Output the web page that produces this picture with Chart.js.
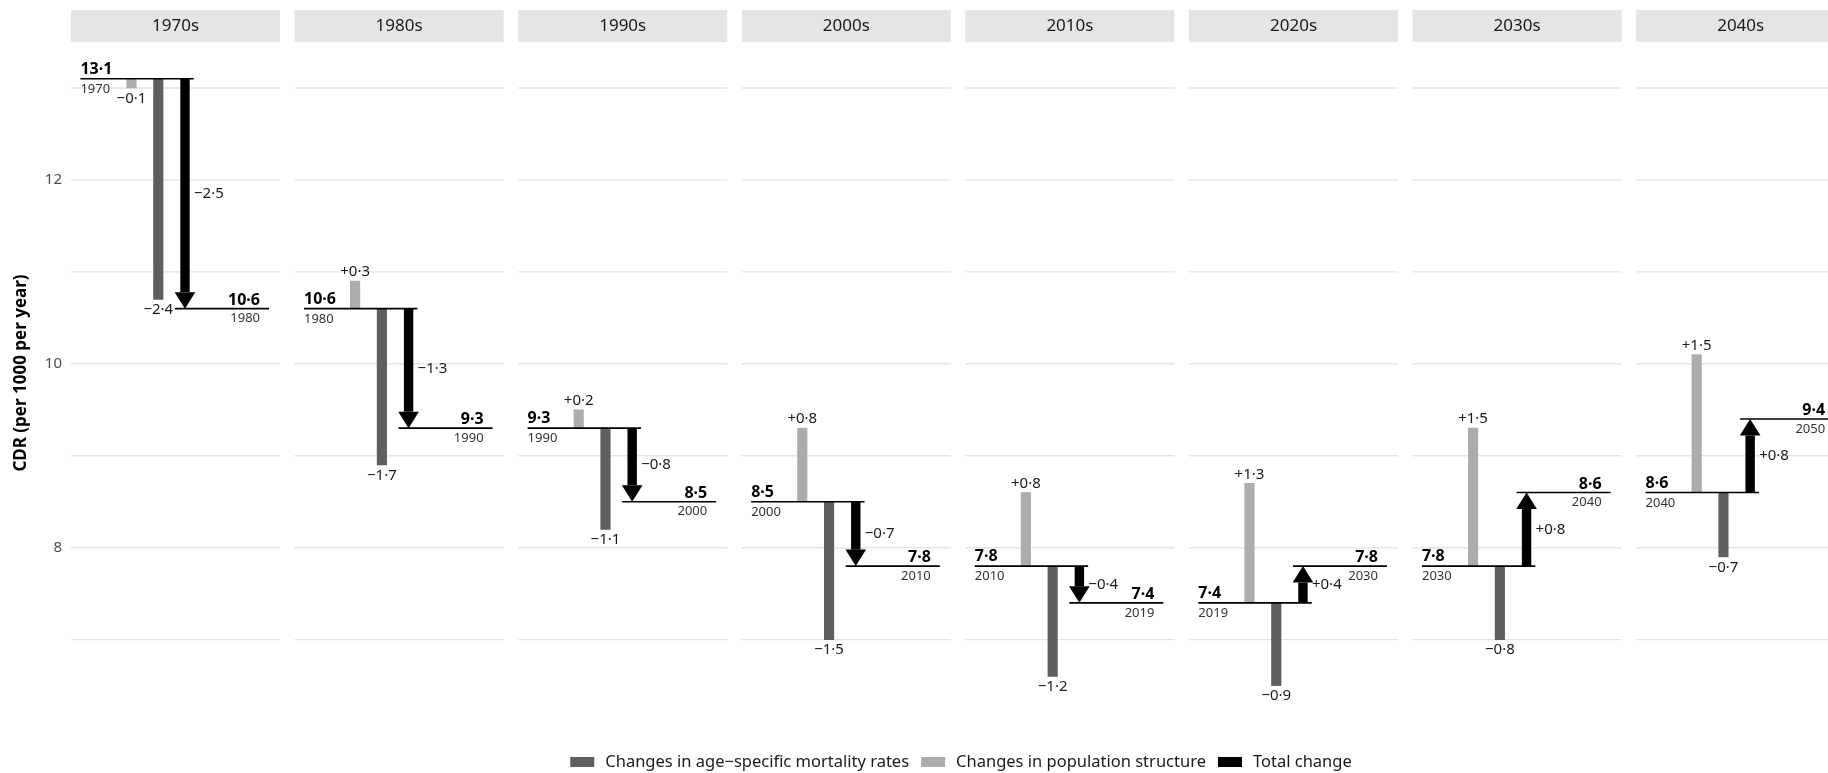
<!DOCTYPE html>
<html>
<head>
<meta charset="utf-8">
<script src="https://cdn.jsdelivr.net/npm/chart.js@4.4.0/dist/chart.umd.min.js"></script>
<style>
  html, body { margin: 0; padding: 0; background: #fff; }
  #wrap { position: relative; width: 1828px; height: 773px; }
</style>
</head>
<body>
<div id="wrap"><canvas id="cdrChart" width="1828" height="773"></canvas></div>
<script>
// Crude death rate decomposition by decade
const decades = ['1970s', '1980s', '1990s', '2000s', '2010s', '2020s', '2030s', '2040s'];
const startYears = ['1970', '1980', '1990', '2000', '2010', '2019', '2030', '2040'];
const endYears = ['1980', '1990', '2000', '2010', '2019', '2030', '2040', '2050'];
const startCdr = [13.1, 10.6, 9.3, 8.5, 7.8, 7.4, 7.8, 8.6];
const endCdr = [10.6, 9.3, 8.5, 7.8, 7.4, 7.8, 8.6, 9.4];
const mortalityChange = [-2.4, -1.7, -1.1, -1.5, -1.2, -0.9, -0.8, -0.7];
const structureChange = [-0.1, 0.3, 0.2, 0.8, 0.8, 1.3, 1.5, 1.5];
const totalChange = [-2.5, -1.3, -0.8, -0.7, -0.4, 0.4, 0.8, 0.8];
const yTickLabels = [8, 10, 12];
const yGridValues = [7, 8, 9, 10, 11, 12, 13];
const legendLabels = ['Changes in age\u2212specific mortality rates', 'Changes in population structure', 'Total change'];

const FONT = '"Noto Sans"';
const MORT_COLOR = '#5f5f5f';
const POP_COLOR = '#acacac';
const TOTAL_COLOR = '#000000';

// positions inside a facet, in units of one facet step
const PANEL_W = 0.935;
const POS = { startL: 0.042, startR: 0.549, pop: 0.2706, mort: 0.3904, total: 0.5098, endL: 0.465, endR: 0.8855, endLabel: 0.8453 };

const fmt = v => v.toFixed(1).replace('.', '\u00b7');
const fmtSigned = v => (v > 0 ? '+' : '\u2212') + fmt(Math.abs(v));

const levelPoints = [];
decades.forEach((d, i) => {
    levelPoints.push({ x: i + POS.startL, y: startCdr[i] }, { x: i + POS.startR, y: startCdr[i] }, { x: i + POS.startR, y: null });
    levelPoints.push({ x: i + POS.endL, y: endCdr[i] }, { x: i + POS.endR, y: endCdr[i] }, { x: i + POS.endR, y: null });
});

const facetPlugin = {
    id: 'facets',
    beforeDatasetsDraw(chart) {
        const { ctx, scales: { x, y } } = chart;
        ctx.save();
        ctx.strokeStyle = '#e5e5e5';
        ctx.lineWidth = 1.4;
        decades.forEach((d, i) => {
            const x0 = x.getPixelForValue(i), x1 = x.getPixelForValue(i + PANEL_W);
            yGridValues.forEach(v => {
                const py = y.getPixelForValue(v);
                ctx.beginPath();
                ctx.moveTo(x0, py);
                ctx.lineTo(x1, py);
                ctx.stroke();
            });
        });
        ctx.restore();
    },
    afterDatasetsDraw(chart) {
        const { ctx, scales: { x, y } } = chart;
        ctx.save();
        decades.forEach((d, i) => {
            // total change arrow
            const cx = x.getPixelForValue(i + POS.total);
            const y0 = y.getPixelForValue(startCdr[i]);
            const y1 = y.getPixelForValue(startCdr[i] + totalChange[i]);
            const dir = y1 > y0 ? 1 : -1;
            const headLen = 16.5, headHalf = 10.3, shaftHalf = 4.7;
            const yb = y1 - dir * headLen;
            ctx.fillStyle = TOTAL_COLOR;
            ctx.fillRect(cx - shaftHalf, Math.min(y0, yb), shaftHalf * 2, Math.abs(yb - y0));
            ctx.beginPath();
            ctx.moveTo(cx - headHalf, yb);
            ctx.lineTo(cx + headHalf, yb);
            ctx.lineTo(cx, y1);
            ctx.closePath();
            ctx.fill();

            ctx.textBaseline = 'middle';
            ctx.fillStyle = '#1a1a1a';
            ctx.font = `15px ${FONT}`;
            ctx.textAlign = 'left';
            ctx.fillText(fmtSigned(totalChange[i]), cx + 9, (y0 + y1) / 2);

            // component labels at bar ends
            ctx.textAlign = 'center';
            const popEnd = y.getPixelForValue(startCdr[i] + structureChange[i]);
            ctx.fillText(fmtSigned(structureChange[i]), x.getPixelForValue(i + POS.pop), popEnd + (structureChange[i] < 0 ? 11 : -9));
            const mortEnd = y.getPixelForValue(startCdr[i] + mortalityChange[i]);
            ctx.fillText(fmtSigned(mortalityChange[i]), x.getPixelForValue(i + POS.mort), mortEnd + (mortalityChange[i] < 0 ? 10.5 : -9));

            // start and end levels
            const yEnd = y.getPixelForValue(endCdr[i]);
            ctx.fillStyle = '#000';
            ctx.font = `bold 16px ${FONT}`;
            ctx.textAlign = 'left';
            ctx.fillText(fmt(startCdr[i]), x.getPixelForValue(i + POS.startL), y0 - 9.5);
            ctx.textAlign = 'right';
            ctx.fillText(fmt(endCdr[i]), x.getPixelForValue(i + POS.endLabel), yEnd - 8.5);
            ctx.fillStyle = '#333';
            ctx.font = `13px ${FONT}`;
            ctx.textAlign = 'left';
            ctx.fillText(startYears[i], x.getPixelForValue(i + POS.startL), y0 + 10.5);
            ctx.textAlign = 'right';
            ctx.fillText(endYears[i], x.getPixelForValue(i + POS.endLabel), yEnd + 10);
        });
        ctx.restore();
    },
    afterDraw(chart) {
        const { ctx, scales: { x } } = chart;
        ctx.save();
        // facet strips
        decades.forEach((d, i) => {
            const x0 = x.getPixelForValue(i), x1 = x.getPixelForValue(i + PANEL_W);
            ctx.fillStyle = '#e5e5e5';
            ctx.fillRect(x0, 10, x1 - x0, 32);
            ctx.fillStyle = '#1a1a1a';
            ctx.font = `17px ${FONT}`;
            ctx.textAlign = 'center';
            ctx.textBaseline = 'middle';
            ctx.fillText(d, (x0 + x1) / 2, 26);
        });
        // legend
        const colors = [MORT_COLOR, POP_COLOR, TOTAL_COLOR];
        const keyW = 24, keyH = 10, gapText = 11, gapItem = 12;
        ctx.font = `16.5px ${FONT}`;
        const widths = legendLabels.map(t => ctx.measureText(t).width);
        const total = widths.reduce((a, w) => a + keyW + gapText + w, 0) + gapItem * (legendLabels.length - 1);
        let lx = 961 - total / 2;
        const ly = 762;
        legendLabels.forEach((t, k) => {
            ctx.fillStyle = colors[k];
            ctx.fillRect(lx, ly - keyH / 2, keyW, keyH);
            lx += keyW + gapText;
            ctx.fillStyle = '#1a1a1a';
            ctx.textAlign = 'left';
            ctx.fillText(t, lx, ly);
            lx += widths[k] + gapItem;
        });
        ctx.restore();
    }
};

const barDefaults = { barThickness: 9.5, grouped: false, borderWidth: 0, borderSkipped: false };

new Chart(document.getElementById('cdrChart'), {
    type: 'bar',
    data: {
        datasets: [
            {
                type: 'line',
                label: 'level',
                data: levelPoints,
                borderColor: '#000',
                borderWidth: 1.6,
                pointRadius: 0,
                spanGaps: false,
                order: 0
            },
            Object.assign({
                label: legendLabels[0],
                data: decades.map((d, i) => ({ x: i + POS.mort, y: [startCdr[i], startCdr[i] + mortalityChange[i]] })),
                backgroundColor: MORT_COLOR,
                order: 1
            }, barDefaults),
            Object.assign({
                label: legendLabels[1],
                data: decades.map((d, i) => ({ x: i + POS.pop, y: [startCdr[i], startCdr[i] + structureChange[i]] })),
                backgroundColor: POP_COLOR,
                order: 2
            }, barDefaults)
        ]
    },
    options: {
        responsive: false,
        animation: false,
        layout: { padding: { top: 42, bottom: 69, left: 0, right: 0 } },
        plugins: { legend: { display: false }, tooltip: { enabled: false } },
        scales: {
            x: { type: 'linear', min: 0, max: 7.858, display: false, offset: false },
            y: {
                min: 6.3,
                max: 13.5,
                afterFit(scale) { scale.width = 71; },
                grid: { display: false, drawTicks: false },
                border: { display: false },
                ticks: {
                    stepSize: 1,
                    includeBounds: false,
                    padding: 9,
                    color: '#4d4d4d',
                    font: { family: FONT, size: 15 },
                    callback: v => yTickLabels.includes(v) ? String(v) : ''
                },
                title: {
                    display: true,
                    text: 'CDR (per 1000 per year)',
                    color: '#000',
                    font: { family: FONT, size: 17, weight: 'bold' },
                    padding: { top: 11, bottom: 0 }
                }
            }
        }
    },
    plugins: [facetPlugin]
});
</script>
</body>
</html>
